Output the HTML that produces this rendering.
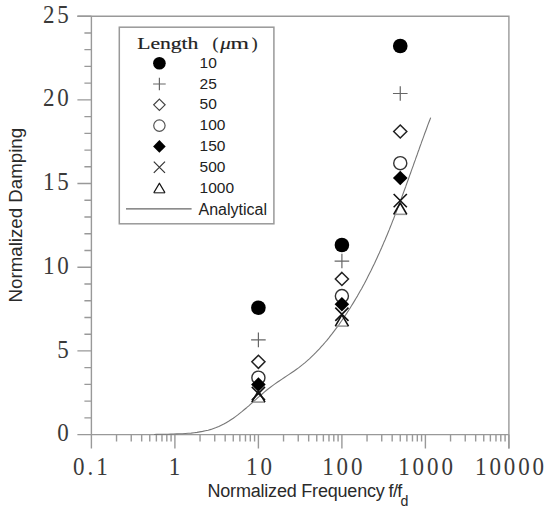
<!DOCTYPE html><html><head><meta charset="utf-8"><style>html,body{margin:0;padding:0;background:#fff;}svg{display:block}</style></head><body>
<svg width="550" height="511" viewBox="0 0 550 511">
<g stroke="#999" stroke-width="1.4" fill="none">
<path d="M91.4,16.19999999999999 V434.6 H508.9 M77.4,16.19999999999999 H508.9 V448.6"/>
<path d="M77.4,434.60H91.4M84.4,417.86H91.4M84.4,401.13H91.4M84.4,384.39H91.4M84.4,367.66H91.4M77.4,350.92H91.4M84.4,334.18H91.4M84.4,317.45H91.4M84.4,300.71H91.4M84.4,283.98H91.4M77.4,267.24H91.4M84.4,250.50H91.4M84.4,233.77H91.4M84.4,217.03H91.4M84.4,200.30H91.4M77.4,183.56H91.4M84.4,166.82H91.4M84.4,150.09H91.4M84.4,133.35H91.4M84.4,116.62H91.4M77.4,99.88H91.4M84.4,83.14H91.4M84.4,66.41H91.4M84.4,49.67H91.4M84.4,32.94H91.4M77.4,16.20H91.4M91.40,434.6V448.6M116.54,434.6V441.6M131.24,434.6V441.6M141.67,434.6V441.6M149.76,434.6V441.6M156.38,434.6V441.6M161.97,434.6V441.6M166.81,434.6V441.6M171.08,434.6V441.6M174.90,434.6V448.6M200.04,434.6V441.6M214.74,434.6V441.6M225.17,434.6V441.6M233.26,434.6V441.6M239.88,434.6V441.6M245.47,434.6V441.6M250.31,434.6V441.6M254.58,434.6V441.6M258.40,434.6V448.6M283.54,434.6V441.6M298.24,434.6V441.6M308.67,434.6V441.6M316.76,434.6V441.6M323.38,434.6V441.6M328.97,434.6V441.6M333.81,434.6V441.6M338.08,434.6V441.6M341.90,434.6V448.6M367.04,434.6V441.6M381.74,434.6V441.6M392.17,434.6V441.6M400.26,434.6V441.6M406.88,434.6V441.6M412.47,434.6V441.6M417.31,434.6V441.6M421.58,434.6V441.6M425.40,434.6V448.6M450.54,434.6V441.6M465.24,434.6V441.6M475.67,434.6V441.6M483.76,434.6V441.6M490.38,434.6V441.6M495.97,434.6V441.6M500.81,434.6V441.6M505.08,434.6V441.6M508.90,434.6V448.6"/>
</g>
<g font-family="Liberation Serif" font-size="25" fill="#3a3a3a" letter-spacing="3.15">
<text transform="translate(71.7,441.20) scale(0.92,1)" text-anchor="end">0</text>
<text transform="translate(71.7,357.52) scale(0.92,1)" text-anchor="end">5</text>
<text transform="translate(71.7,273.84) scale(0.92,1)" text-anchor="end">10</text>
<text transform="translate(71.7,190.16) scale(0.92,1)" text-anchor="end">15</text>
<text transform="translate(71.7,106.48) scale(0.92,1)" text-anchor="end">20</text>
<text transform="translate(71.7,22.80) scale(0.92,1)" text-anchor="end">25</text>
<text transform="translate(91.80,475.3) scale(0.92,1)" text-anchor="middle">0.1</text>
<text transform="translate(176.00,475.3) scale(0.92,1)" text-anchor="middle">1</text>
<text transform="translate(260.40,475.3) scale(0.92,1)" text-anchor="middle">10</text>
<text transform="translate(343.80,475.3) scale(0.92,1)" text-anchor="middle">100</text>
<text transform="translate(427.00,475.3) scale(0.92,1)" text-anchor="middle">1000</text>
<text transform="translate(511.00,475.3) scale(0.92,1)" text-anchor="middle">10000</text>
</g>
<g font-family="Liberation Sans" font-size="18" fill="#2a2a2a">
<text x="207.5" y="497" letter-spacing="-0.2">Normalized Frequency</text>
<text x="388.6" y="497" letter-spacing="-0.7">f/f</text>
<text x="400.6" y="505.6" font-size="14.2">d</text>
<text transform="translate(21.8,302.4) rotate(-90)" x="0" y="0" font-size="18.7">Normalized Damping</text>
</g>
<rect x="119.3" y="27.2" width="154.6" height="196.6" fill="#fff" stroke="#999" stroke-width="1.5"/>
<g font-family="Liberation Serif" font-size="17.5" fill="#222" stroke="#222" stroke-width="0.2"><text x="137.2" y="48.6" textLength="61.2" lengthAdjust="spacingAndGlyphs">Length</text><text x="212.6" y="48.6">(</text><text x="220.2" y="48.6" font-style="italic" textLength="10.5" lengthAdjust="spacingAndGlyphs">μ</text><text x="230.4" y="48.6" textLength="18.4" lengthAdjust="spacingAndGlyphs">m</text><text x="251.8" y="48.6">)</text></g>
<g font-family="Liberation Sans" font-size="16" fill="#222">
<circle cx="159.40" cy="63.20" r="6.30" fill="#000"/>
<text x="199.6" y="67.80" font-size="15.5">10</text>
<path d="M153.10,84.00H165.70M159.40,77.70V90.30" stroke="#666" stroke-width="1.2" fill="none"/>
<text x="199.6" y="88.60" font-size="15.5">25</text>
<path d="M159.40,99.10L165.10,104.80L159.40,110.50L153.70,104.80Z" stroke="#444" stroke-width="1.2" fill="none"/>
<text x="199.6" y="109.40" font-size="15.5">50</text>
<circle cx="159.40" cy="125.60" r="5.70" fill="none" stroke="#555" stroke-width="1.2"/>
<text x="199.6" y="130.20" font-size="15.5">100</text>
<path d="M159.40,140.10L165.70,146.40L159.40,152.70L153.10,146.40Z" fill="#000"/>
<text x="199.6" y="151.00" font-size="15.5">150</text>
<path d="M153.80,161.60L165.00,172.80M165.00,161.60L153.80,172.80" stroke="#333" stroke-width="1.2" fill="none"/>
<text x="199.6" y="171.80" font-size="15.5">500</text>
<path d="M153.80,192.78H165.00" stroke="#444" stroke-width="1.3"/><path d="M153.80,192.78L159.40,183.22L165.00,192.78" stroke="#111" stroke-width="1.3" fill="none" stroke-linejoin="round"/>
<text x="199.6" y="192.60" font-size="15.5">1000</text>
<path d="M126,208.80H191.6" stroke="#666" stroke-width="1.2"/>
<text x="198.5" y="214.50">Analytical</text>
</g>
<path d="M154.1,434.5 L156.8,434.4 L159.5,434.3 L162.3,434.3 L165.1,434.2 L168.0,434.2 L170.8,434.1 L173.7,434.0 L176.6,433.9 L179.5,433.8 L182.5,433.7 L185.4,433.5 L188.3,433.3 L191.2,433.1 L194.1,432.7 L197.0,432.4 L199.8,431.9 L202.6,431.4 L205.4,430.8 L208.2,430.2 L210.9,429.4 L213.6,428.5 L216.2,427.6 L218.8,426.5 L221.3,425.3 L223.8,424.1 L226.2,422.7 L228.6,421.3 L230.9,419.8 L233.3,418.2 L235.5,416.6 L237.8,414.9 L240.0,413.1 L242.2,411.4 L244.4,409.5 L246.6,407.7 L248.8,405.8 L250.9,403.9 L253.0,402.0 L255.2,400.1 L257.3,398.2 L259.4,396.4 L261.6,394.5 L263.7,392.6 L265.9,390.8 L268.1,389.0 L270.4,387.3 L272.6,385.6 L275.0,383.9 L277.3,382.3 L279.6,380.7 L282.0,379.1 L284.4,377.5 L286.8,375.9 L289.1,374.4 L291.5,372.8 L293.8,371.2 L296.2,369.5 L298.5,367.9 L300.7,366.1 L302.9,364.4 L305.1,362.6 L307.3,360.7 L309.4,358.8 L311.4,356.9 L313.5,354.9 L315.5,352.9 L317.4,350.9 L319.4,348.8 L321.3,346.7 L323.2,344.6 L325.0,342.5 L326.9,340.3 L328.7,338.1 L330.4,335.9 L332.2,333.7 L333.9,331.4 L335.6,329.2 L337.3,326.9 L339.0,324.6 L340.6,322.3 L342.2,320.0 L343.8,317.6 L345.4,315.3 L347.0,312.9 L348.5,310.5 L350.0,308.2 L351.5,305.8 L353.0,303.4 L354.5,300.9 L355.9,298.5 L357.4,296.1 L358.8,293.6 L360.2,291.1 L361.6,288.7 L362.9,286.2 L364.3,283.7 L365.6,281.2 L366.9,278.7 L368.2,276.1 L369.5,273.6 L370.8,271.1 L372.0,268.5 L373.2,265.9 L374.5,263.4 L375.7,260.8 L376.9,258.2 L378.1,255.6 L379.3,253.0 L380.4,250.4 L381.6,247.8 L382.7,245.2 L383.8,242.6 L385.0,240.0 L386.1,237.3 L387.2,234.7 L388.3,232.0 L389.4,229.4 L390.4,226.7 L391.5,224.1 L392.5,221.4 L393.6,218.8 L394.6,216.1 L395.7,213.4 L396.7,210.8 L397.7,208.1 L398.7,205.4 L399.7,202.7 L400.7,200.1 L401.7,197.4 L402.7,194.7 L403.7,192.0 L404.7,189.3 L405.7,186.7 L406.6,184.0 L407.6,181.3 L408.6,178.6 L409.5,175.9 L410.5,173.2 L411.4,170.6 L412.4,167.9 L413.4,165.2 L414.3,162.5 L415.3,159.9 L416.2,157.2 L417.2,154.5 L418.1,151.8 L419.1,149.2 L420.0,146.5 L421.0,143.9 L421.9,141.2 L422.9,138.6 L423.9,135.9 L424.8,133.3 L425.8,130.7 L426.8,128.0 L427.7,125.4 L428.7,122.8 L429.7,120.2 L430.7,117.6" fill="none" stroke="#777" stroke-width="1.1" stroke-linejoin="round"/>
<circle cx="258.40" cy="307.74" r="7.30" fill="#000"/>
<path d="M251.10,339.87H265.70M258.40,332.57V347.17" stroke="#666" stroke-width="1.2" fill="none"/>
<path d="M258.40,355.25L264.95,361.80L258.40,368.35L251.85,361.80Z" stroke="#222" stroke-width="1.5" fill="none"/>
<circle cx="258.40" cy="377.70" r="6.55" fill="none" stroke="#333" stroke-width="1.4"/>
<path d="M258.40,377.26L265.70,384.56L258.40,391.86L251.10,384.56Z" fill="#000"/>
<path d="M251.80,386.83L265.00,400.03M265.00,386.83L251.80,400.03" stroke="#111" stroke-width="1.6" fill="none"/>
<path d="M251.80,402.09H265.00" stroke="#999" stroke-width="1.6"/><path d="M251.80,402.09L258.40,390.79L265.00,402.09" stroke="#111" stroke-width="1.6" fill="none" stroke-linejoin="round"/>
<circle cx="341.90" cy="244.98" r="7.30" fill="#000"/>
<path d="M334.60,261.05H349.20M341.90,253.75V268.35" stroke="#666" stroke-width="1.2" fill="none"/>
<path d="M341.90,272.41L348.45,278.96L341.90,285.51L335.35,278.96Z" stroke="#222" stroke-width="1.5" fill="none"/>
<circle cx="341.90" cy="296.03" r="6.55" fill="none" stroke="#333" stroke-width="1.4"/>
<path d="M341.90,296.93L349.20,304.23L341.90,311.53L334.60,304.23Z" fill="#000"/>
<path d="M335.30,307.67L348.50,320.87M348.50,307.67L335.30,320.87" stroke="#111" stroke-width="1.6" fill="none"/>
<path d="M335.30,326.11H348.50" stroke="#999" stroke-width="1.6"/><path d="M335.30,326.11L341.90,314.81L348.50,326.11" stroke="#111" stroke-width="1.6" fill="none" stroke-linejoin="round"/>
<circle cx="400.26" cy="45.99" r="7.30" fill="#000"/>
<path d="M392.96,93.52H407.56M400.26,86.22V100.82" stroke="#666" stroke-width="1.2" fill="none"/>
<path d="M400.26,124.96L406.81,131.51L400.26,138.06L393.71,131.51Z" stroke="#222" stroke-width="1.5" fill="none"/>
<circle cx="400.26" cy="163.14" r="6.55" fill="none" stroke="#333" stroke-width="1.4"/>
<path d="M400.26,170.74L407.56,178.04L400.26,185.34L392.96,178.04Z" fill="#000"/>
<path d="M393.66,194.03L406.86,207.23M406.86,194.03L393.66,207.23" stroke="#111" stroke-width="1.6" fill="none"/>
<path d="M393.66,214.32H406.86" stroke="#999" stroke-width="1.6"/><path d="M393.66,214.32L400.26,203.01L406.86,214.32" stroke="#111" stroke-width="1.6" fill="none" stroke-linejoin="round"/>
</svg></body></html>
